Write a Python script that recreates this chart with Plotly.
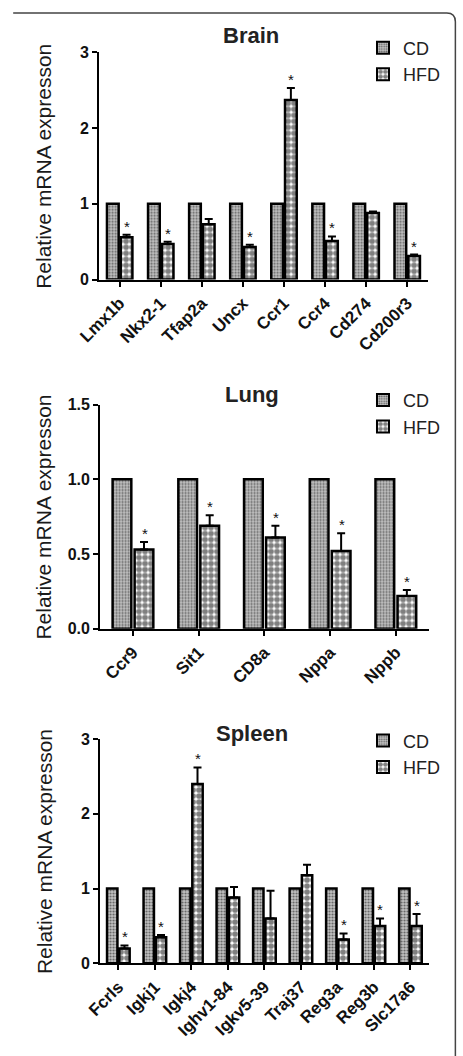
import plotly.graph_objects as go

# ---------------- data ----------------
brain_genes = ["Lmx1b", "Nkx2-1", "Tfap2a", "Uncx", "Ccr1", "Ccr4", "Cd274", "Cd200r3"]
brain_cd = [1, 1, 1, 1, 1, 1, 1, 1]
brain_hfd = [0.56, 0.47, 0.73, 0.43, 2.37, 0.51, 0.88, 0.31]
brain_err = [0.03, 0.03, 0.07, 0.03, 0.16, 0.06, 0.02, 0.02]
brain_sig = [1, 1, 0, 1, 1, 1, 0, 1]

lung_genes = ["Ccr9", "Sit1", "CD8a", "Nppa", "Nppb"]
lung_cd = [1, 1, 1, 1, 1]
lung_hfd = [0.53, 0.69, 0.61, 0.52, 0.22]
lung_err = [0.05, 0.07, 0.08, 0.12, 0.04]
lung_sig = [1, 1, 1, 1, 1]

spleen_genes = ["Fcrls", "Igkj1", "Igkj4", "Ighv1-84", "Igkv5-39", "Traj37", "Reg3a", "Reg3b", "Slc17a6"]
spleen_cd = [1, 1, 1, 1, 1, 1, 1, 1, 1]
spleen_hfd = [0.20, 0.35, 2.40, 0.88, 0.60, 1.18, 0.32, 0.50, 0.50]
spleen_err = [0.04, 0.03, 0.22, 0.14, 0.37, 0.14, 0.08, 0.10, 0.16]
spleen_sig = [1, 1, 1, 0, 0, 0, 1, 1, 1]

panel_titles = ["Brain", "Lung", "Spleen"]
y_title = "Relative mRNA expresson"
series_names = ["CD", "HFD"]

# ---------------- layout geometry ----------------
W, H = 463, 1056
FONT = "Liberation Sans, Arial, sans-serif"
BARGAP = 0.33

panels = [
    dict(genes=brain_genes, cd=brain_cd, hfd=brain_hfd, err=brain_err, sig=brain_sig,
         title=panel_titles[0], xdom=(81, 426), ypx=(276, 45), yrange=[0, 3], dtick=1, fmt="d",
         title_y=28, legend_top=22),
    dict(genes=lung_genes, cd=lung_cd, hfd=lung_hfd, err=lung_err, sig=lung_sig,
         title=panel_titles[1], xdom=(82, 427), ypx=(631, 403), yrange=[0, 1.5], dtick=0.5, fmt=".1f",
         title_y=393, legend_top=380),
    dict(genes=spleen_genes, cd=spleen_cd, hfd=spleen_hfd, err=spleen_err, sig=spleen_sig,
         title=panel_titles[2], xdom=(82, 427), ypx=(971, 743), yrange=[0, 3], dtick=1, fmt="d",
         title_y=737, legend_top=726),
]

cd_pattern = dict(shape=".", size=3, solidity=0.4, fgcolor="#000000", bgcolor="#c4c4c4")
hfd_pattern = dict(shape=".", size=6, solidity=0.7, fgcolor="#000000", bgcolor="#ffffff")

fig = go.Figure()
annotations = []
layout = {}

for k, p in enumerate(panels):
    sfx = "" if k == 0 else str(k + 1)
    xa, ya = "x" + sfx, "y" + sfx
    leg = "legend" + sfx
    fig.add_trace(go.Bar(
        x=p["genes"], y=p["cd"], name=series_names[0], xaxis=xa, yaxis=ya, legend=leg,
        marker=dict(color="#c4c4c4", pattern=cd_pattern, line=dict(color="black", width=2.5)),
    ))
    fig.add_trace(go.Bar(
        x=p["genes"], y=p["hfd"], name=series_names[1], xaxis=xa, yaxis=ya, legend=leg,
        marker=dict(color="white", pattern=hfd_pattern, line=dict(color="black", width=2.5)),
        error_y=dict(type="data", array=p["err"], arrayminus=[0] * len(p["err"]), symmetric=False,
                     color="black", thickness=2, width=4),
    ))

    x0, x1 = p["xdom"]
    yb, yt = p["ypx"]
    layout["xaxis" + sfx] = dict(
        domain=[x0 / W, x1 / W], anchor=ya, showline=True, linecolor="black", linewidth=2,
        ticks="outside", ticklen=5, tickwidth=2, tickcolor="black", tickangle=-45,
        tickfont=dict(family=FONT, size=17, color="#111111", weight="bold"),
        showgrid=False, zeroline=False,
    )
    layout["yaxis" + sfx] = dict(
        domain=[1 - yb / H, 1 - yt / H], anchor=xa, range=p["yrange"], dtick=p["dtick"],
        tickformat=p["fmt"], showline=True, linecolor="black", linewidth=2,
        ticks="outside", ticklen=5, tickwidth=2, tickcolor="black",
        tickfont=dict(family=FONT, size=16, color="#111111", weight="bold"),
        showgrid=False, zeroline=False,
    )
    layout[leg] = dict(
        x=358 / W, y=1 - p["legend_top"] / H, xanchor="left", yanchor="top",
        font=dict(family=FONT, size=18, color="#222222"), bgcolor="rgba(0,0,0,0)",
        tracegroupgap=0, itemsizing="constant",
    )

    # panel title
    annotations.append(dict(text="<b>" + p["title"] + "</b>", x=(x0 + x1) / 2 / W - 13 / W,
                            y=1 - p["title_y"] / H, xref="paper", yref="paper",
                            showarrow=False, font=dict(family=FONT, size=22, color="#222222"),
                            xanchor="center", yanchor="middle"))
    # y-axis title
    annotations.append(dict(text=y_title, x=23 / W, y=1 - (yb + yt) / 2 / H, xref="paper", yref="paper",
                            textangle=-90, showarrow=False, font=dict(family=FONT, size=21, color="#1a1a1a"),
                            xanchor="center", yanchor="middle"))
    # significance asterisks above the HFD bars
    slot = (x1 - x0) / len(p["genes"])
    shift = slot * (1 - BARGAP) / 4
    for g, v, e, s in zip(p["genes"], p["hfd"], p["err"], p["sig"]):
        if s:
            annotations.append(dict(text="*", x=g, y=v + e, xref=xa, yref=ya, xshift=shift, yshift=-2,
                                    showarrow=False, xanchor="center", yanchor="bottom",
                                    font=dict(family=FONT, size=15, color="#111111")))

# frame around the figure (rounded top-right corner)
r = 9
fx = 455 / W
fy = 1 - 5 / H
frame_path = (f"M {-0.02},{fy} L {(455 - r) / W},{fy} "
              f"Q {fx},{fy} {fx},{1 - (5 + r) / H} L {fx},{-0.02}")

fig.update_layout(
    width=W, height=H, margin=dict(l=0, r=0, t=0, b=0),
    paper_bgcolor="white", plot_bgcolor="white",
    barmode="group", bargap=BARGAP, bargroupgap=0.15,
    annotations=annotations,
    shapes=[dict(type="path", path=frame_path, xref="paper", yref="paper",
                 line=dict(color="#444444", width=1.5))],
    font=dict(family=FONT, color="black"),
    **layout,
)

fig.write_html("out.html")
